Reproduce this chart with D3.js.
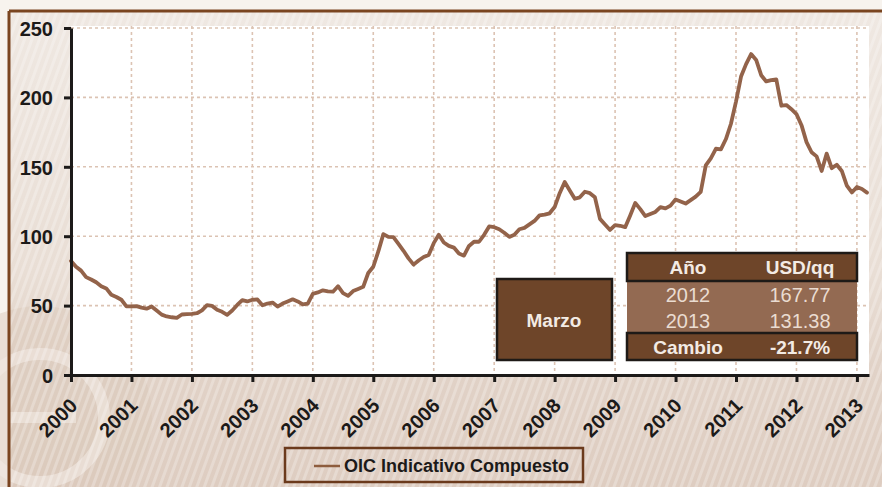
<!DOCTYPE html>
<html>
<head>
<meta charset="utf-8">
<title>OIC Indicativo Compuesto</title>
<script src="https://cdn.jsdelivr.net/npm/d3@7"></script>
<style>
  body { margin: 0; background: #f7f3ee; }
  svg { display: block; font-family: "Liberation Sans", Arial, sans-serif; }
</style>
</head>
<body>
<svg id="chart"></svg>
<script>
// monthly prices, US cents/lb, Jan 2000 - Mar 2013
var startYear = 2000;
var prices = [
  82.2, 78.0, 75.2, 70.5, 68.8, 66.8, 64.0, 62.4, 57.8, 56.2, 54.2, 49.5,   // 2000
  49.5, 49.6, 48.5, 47.8, 49.4, 46.5, 43.5, 42.2, 41.6, 41.2, 43.6, 43.8,   // 2001
  44.0, 44.5, 46.6, 50.3, 49.8, 47.0, 45.5, 43.3, 46.5, 50.5, 54.0, 53.0,   // 2002
  54.2, 54.4, 50.2, 51.5, 52.2, 49.3, 51.5, 53.0, 54.5, 53.0, 50.8, 51.5,   // 2003
  58.5, 59.5, 61.0, 60.3, 60.0, 64.0, 59.0, 57.0, 60.5, 62.0, 63.5, 73.5,   // 2004
  78.0, 89.0, 101.5, 99.5, 99.3, 94.5, 89.5, 84.0, 79.5, 82.5, 85.0, 86.5,  // 2005
  95.0, 101.0, 95.5, 93.0, 91.8, 87.5, 86.0, 93.0, 96.0, 96.0, 101.0, 107.0, // 2006
  106.5, 105.0, 102.5, 99.5, 101.0, 105.0, 106.0, 108.5, 111.0, 115.0, 115.5, 116.5, // 2007
  121.0, 131.0, 139.0, 133.0, 127.0, 128.0, 132.0, 131.0, 128.0, 112.5, 108.5, 104.5, // 2008
  108.0, 107.5, 106.5, 115.0, 124.0, 119.5, 114.5, 116.0, 117.5, 121.0, 120.0, 122.0, // 2009
  126.5, 125.0, 123.5, 126.0, 128.5, 132.0, 151.0, 156.0, 163.0, 162.5, 170.0, 181.0, // 2010
  197.0, 215.0, 224.0, 231.2, 227.0, 216.0, 211.5, 212.5, 213.0, 194.0, 194.5, 191.5, // 2011
  188.0, 180.0, 167.8, 160.5, 157.5, 147.0, 159.5, 149.0, 151.5, 147.0, 136.5, 131.5, // 2012
  135.5, 134.0, 131.4                                                         // 2013
];
var yearTicks = d3.range(2000, 2014);
var valueTicks = [0, 50, 100, 150, 200, 250];
var seriesName = "OIC Indicativo Compuesto";

// March comparison table
var tableMonth = "Marzo";
var tableHeader = ["Año", "USD/qq"];
var tableYears = ["2012", "2013"];
var tableValues = ["167.77", "131.38"];
var changeLabel = "Cambio";
var changeValue = "-21.7%";

var W = 882, H = 487;
var plotL = 71, plotR = 869, plotT = 28, plotB = 375;

var svg = d3.select("#chart").attr("width", W).attr("height", H);

// background panel
var defs = svg.append("defs");
var grad = defs.append("linearGradient").attr("id", "panelGrad")
  .attr("x1", 0).attr("y1", 0).attr("x2", 0).attr("y2", 1);
grad.append("stop").attr("offset", "0%").attr("stop-color", "#efe8e2");
grad.append("stop").attr("offset", "55%").attr("stop-color", "#e9ded5");
grad.append("stop").attr("offset", "75%").attr("stop-color", "#e1d2c7");
grad.append("stop").attr("offset", "100%").attr("stop-color", "#decdc1");

var stripes = defs.append("pattern").attr("id", "stripes")
  .attr("width", 7).attr("height", 7)
  .attr("patternUnits", "userSpaceOnUse")
  .attr("patternTransform", "rotate(20)");
stripes.append("rect").attr("width", 3).attr("height", 7)
  .attr("fill", "#ffffff").attr("opacity", 0.25);

svg.append("rect").attr("x", 0).attr("y", 0).attr("width", W).attr("height", H)
  .attr("fill", "#f7f3ee");
svg.append("rect").attr("x", 9).attr("y", 11).attr("width", W - 9).attr("height", H - 11)
  .attr("fill", "url(#panelGrad)");

// faint logo watermark bottom-left
var logo = svg.append("g");
logo.append("circle").attr("cx", 40).attr("cy", 418).attr("r", 112)
  .attr("fill", "#dac7b9").attr("opacity", 0.45);
logo.append("circle").attr("cx", 40).attr("cy", 418).attr("r", 64)
  .attr("fill", "none").attr("stroke", "#f1e9e3").attr("stroke-width", 12).attr("opacity", 0.6);
logo.append("rect").attr("x", 10).attr("y", 412).attr("width", 66).attr("height", 11)
  .attr("fill", "#f1e9e3").attr("opacity", 0.6);

svg.append("rect").attr("x", 9).attr("y", 11).attr("width", W - 9).attr("height", H - 11)
  .attr("fill", "url(#stripes)");

// border lines of panel
svg.append("line").attr("x1", 9).attr("x2", W).attr("y1", 11).attr("y2", 11)
  .attr("stroke", "#7a4520").attr("stroke-width", 3);
svg.append("line").attr("x1", 9).attr("x2", 9).attr("y1", 11).attr("y2", H)
  .attr("stroke", "#7a4520").attr("stroke-width", 3);

// plot area
svg.append("rect").attr("x", plotL).attr("y", 26)
  .attr("width", plotR - plotL).attr("height", plotB - 26)
  .attr("fill", "#ffffff");

var x = d3.scaleLinear().domain([2000, 2013 + 2.4 / 12]).range([plotL, plotR]);
var y = d3.scaleLinear().domain([0, 250]).range([plotB, plotT]);

// grid
var grid = svg.append("g");
grid.selectAll(".vgrid").data(yearTicks.slice(1)).enter().append("line")
  .attr("x1", function(d) { return x(d); }).attr("x2", function(d) { return x(d); })
  .attr("y1", 26).attr("y2", plotB)
  .attr("stroke", "#dcc3b3").attr("stroke-width", 1.6).attr("stroke-dasharray", "3,3");
grid.selectAll(".hgrid").data(valueTicks.slice(1)).enter().append("line")
  .attr("x1", plotL).attr("x2", plotR)
  .attr("y1", function(d) { return y(d); }).attr("y2", function(d) { return y(d); })
  .attr("stroke", "#dcc3b3").attr("stroke-width", 1.6).attr("stroke-dasharray", "3,3");

// data line
var line = d3.line()
  .x(function(d, i) { return x(startYear + i / 12); })
  .y(function(d) { return y(d); });

svg.append("path").datum(prices)
  .attr("d", line)
  .attr("fill", "none")
  .attr("stroke", "#93634a")
  .attr("stroke-width", 3.8)
  .attr("stroke-linejoin", "round")
  .attr("stroke-linecap", "round");

// axes
var yAxis = svg.append("g").attr("transform", "translate(" + plotL + ",0)")
  .call(d3.axisLeft(y).tickValues(valueTicks).tickSize(7).tickSizeOuter(0).tickPadding(11));
var xAxis = svg.append("g").attr("transform", "translate(0," + plotB + ")")
  .call(d3.axisBottom(x).tickValues(yearTicks).tickSize(7).tickSizeOuter(0).tickFormat(d3.format("d")));

[yAxis, xAxis].forEach(function(a) {
  a.select(".domain").attr("stroke", "#1c1a19").attr("stroke-width", 3);
  a.selectAll(".tick line").attr("stroke", "#1c1a19").attr("stroke-width", 3);
  a.selectAll("text").attr("fill", "#1c1a19").attr("font-weight", "bold")
    .attr("font-family", "Liberation Sans, Arial, sans-serif");
});
yAxis.selectAll("text").attr("font-size", 20).attr("dy", "0.36em");
xAxis.selectAll("text").attr("font-size", 20)
  .attr("text-anchor", "end")
  .attr("y", 0).attr("dy", 0)
  .attr("transform", "translate(7,32) rotate(-45)");

// comparison table
var dark = "#6e4529", mid = "#936a52", edge = "#1e1a17";
var tbl = svg.append("g");
tbl.append("rect").attr("x", 497).attr("y", 279).attr("width", 115).attr("height", 81)
  .attr("fill", dark).attr("stroke", edge).attr("stroke-width", 2.5);
tbl.append("text").attr("x", 554).attr("y", 320).attr("dy", "0.36em")
  .attr("text-anchor", "middle").attr("font-size", 19).attr("font-weight", "bold")
  .attr("fill", "#f3ebe4").text(tableMonth);

var tx = 627, tw = 230;
var colX = [688, 800];
tbl.append("rect").attr("x", tx).attr("y", 281).attr("width", tw).attr("height", 52)
  .attr("fill", mid);
tbl.append("rect").attr("x", tx).attr("y", 253).attr("width", tw).attr("height", 28)
  .attr("fill", dark).attr("stroke", edge).attr("stroke-width", 2.5);
tbl.append("rect").attr("x", tx).attr("y", 333).attr("width", tw).attr("height", 27)
  .attr("fill", dark).attr("stroke", edge).attr("stroke-width", 2.5);

tbl.selectAll(".hdr").data(tableHeader).enter().append("text")
  .attr("x", function(d, i) { return colX[i]; }).attr("y", 267).attr("dy", "0.36em")
  .attr("text-anchor", "middle").attr("font-size", 19).attr("font-weight", "bold")
  .attr("fill", "#f3ebe4").text(function(d) { return d; });

tableYears.forEach(function(yr, i) {
  var ry = 295 + i * 26;
  tbl.append("text").attr("x", colX[0]).attr("y", ry).attr("dy", "0.36em")
    .attr("text-anchor", "middle").attr("font-size", 20)
    .attr("fill", "#eadcd1").text(yr);
  tbl.append("text").attr("x", colX[1]).attr("y", ry).attr("dy", "0.36em")
    .attr("text-anchor", "middle").attr("font-size", 20)
    .attr("fill", "#eadcd1").text(tableValues[i]);
});

tbl.append("text").attr("x", colX[0]).attr("y", 347).attr("dy", "0.36em")
  .attr("text-anchor", "middle").attr("font-size", 19).attr("font-weight", "bold")
  .attr("fill", "#f3ebe4").text(changeLabel);
tbl.append("text").attr("x", colX[1]).attr("y", 347).attr("dy", "0.36em")
  .attr("text-anchor", "middle").attr("font-size", 19).attr("font-weight", "bold")
  .attr("fill", "#f3ebe4").text(changeValue);

// legend
var lg = svg.append("g");
lg.append("rect").attr("x", 285).attr("y", 448).attr("width", 298).attr("height", 34)
  .attr("fill", "none").attr("stroke", "#6b3a1c").attr("stroke-width", 2.5);
lg.append("line").attr("x1", 314).attr("x2", 340).attr("y1", 466).attr("y2", 466)
  .attr("stroke", "#8e5d3e").attr("stroke-width", 2.5);
lg.append("text").attr("x", 344).attr("y", 466).attr("dy", "0.36em")
  .attr("font-size", 18).attr("font-weight", "bold").attr("fill", "#1c1a19")
  .text(seriesName);
</script>
</body>
</html>
